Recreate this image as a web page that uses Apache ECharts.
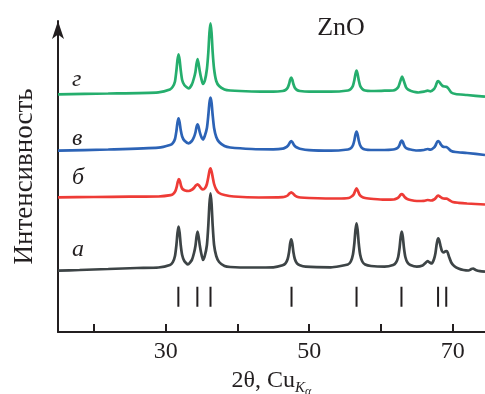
<!DOCTYPE html>
<html>
<head>
<meta charset="utf-8">
<script src="https://cdn.jsdelivr.net/npm/echarts@6/dist/echarts.min.js"></script>
<style>
  html, body { margin: 0; padding: 0; background: #fff; }
  #chart { width: 485px; height: 394px; }
</style>
</head>
<body>
<div id="chart"></div>
<script>
// 2θ (deg) and offset intensity
const curveA = [
  [15, 61.3], [18, 62], [22, 63], [26, 64], [29, 64.5], [30.6, 67], [31.0, 69.8], [31.3, 76], [31.5, 87],
  [31.65, 99], [31.8, 105.3], [31.95, 99], [32.1, 87], [32.3, 77], [32.6, 71], [33.1, 67.5],
  [33.65, 72], [33.95, 79], [34.15, 86], [34.3, 95], [34.45, 100.3], [34.6, 95], [34.75, 87], [34.95, 79], [35.2, 72],
  [35.45, 76], [35.75, 87], [35.95, 107], [36.1, 128], [36.25, 138.7], [36.4, 128], [36.55, 107], [36.75, 87],
  [37.05, 76], [37.45, 70], [38.2, 66], [39, 65], [42, 64.5], [45, 64.7],
  [46.3, 66.7], [46.7, 68.6], [47.0, 73], [47.2, 80], [47.35, 88.6], [47.5, 92.7], [47.65, 88.6], [47.8, 80],
  [48.0, 73], [48.3, 68.6], [48.7, 66.7], [49.5, 65.3], [53, 64.7],
  [55.4, 67.5], [55.8, 70.5], [56.1, 77.5], [56.3, 89], [56.45, 102], [56.6, 108.7], [56.75, 102], [56.9, 89],
  [57.1, 77.5], [57.4, 70.5], [57.8, 67.5], [58.6, 66], [60.5, 65.3],
  [61.7, 67], [62.1, 69.5], [62.4, 75], [62.6, 84.5], [62.75, 95], [62.9, 100.3], [63.05, 95], [63.2, 84.5],
  [63.4, 75], [63.7, 69.5], [64.1, 67], [65, 65.3],
  [65.8, 66.5], [66.2, 69], [66.5, 71], [66.8, 69.5], [67.1, 68.5], [67.4, 73], [67.6, 79], [67.75, 87],
  [67.9, 92.5], [68.0, 93.7], [68.15, 91], [68.3, 86], [68.5, 81], [68.75, 79.5], [69.0, 80.8], [69.15, 81],
  [69.3, 79.5], [69.5, 75], [69.8, 69.5], [70.2, 66], [70.8, 63.5], [71.5, 62], [72.2, 61.5], [72.6, 63],
  [72.85, 63.5], [73.2, 62], [73.8, 60.8], [74.5, 60.3]
];
const curveB = [
  [15, 134.7], [20, 135], [25, 135.3], [29, 135.5], [30.7, 136.8], [31.05, 138], [31.35, 140.8], [31.55, 145.4],
  [31.7, 150.5], [31.85, 153], [32.0, 150.5], [32.15, 146], [32.35, 143], [32.7, 141.5], [33.2, 141],
  [33.7, 142.5], [34.0, 144.5], [34.2, 146.5], [34.45, 147.7], [34.65, 146.5], [34.9, 144], [35.2, 142.5],
  [35.5, 144], [35.75, 148], [35.95, 155], [36.1, 161], [36.25, 163.7], [36.4, 160.5], [36.55, 155],
  [36.75, 148], [37.05, 142.5], [37.45, 139], [38.2, 137], [39.5, 135.5], [43, 134.5],
  [46.3, 134.8], [46.7, 135.5], [47.0, 136.5], [47.25, 138.5], [47.5, 139.7], [47.75, 138.5], [48.0, 136.5],
  [48.3, 135.3], [48.8, 134.5], [50, 134], [54, 133.5],
  [55.5, 134], [55.9, 135.5], [56.2, 137.5], [56.4, 141], [56.6, 143.7], [56.8, 141], [57.0, 137.5],
  [57.3, 135.3], [57.8, 134], [59, 133], [60.5, 132.3],
  [61.8, 132.5], [62.2, 133.5], [62.5, 135], [62.7, 137], [62.9, 138], [63.1, 137], [63.3, 135], [63.6, 133.3],
  [64.1, 132], [65, 131], [66, 131.2], [66.5, 132], [67, 131.5], [67.4, 132.5], [67.7, 134.5], [67.85, 136],
  [68.0, 136.3], [68.2, 135.5], [68.5, 134], [68.9, 133.3], [69.15, 133.3], [69.5, 132], [70, 130],
  [70.8, 129.2], [72, 128.5], [74.5, 127.5]
];
const curveV = [
  [15, 181.3], [22, 182.5], [29, 184.3], [30.6, 187], [31.0, 188.9], [31.3, 193], [31.5, 201], [31.65, 209.5],
  [31.8, 213.7], [31.95, 209.5], [32.1, 202], [32.3, 195.5], [32.6, 191.5], [33.2, 188.7], [33.65, 191],
  [33.95, 195], [34.15, 199.5], [34.3, 205], [34.45, 207.7], [34.6, 205], [34.75, 200], [34.95, 195.5],
  [35.2, 192.5], [35.45, 196], [35.75, 204], [35.95, 217], [36.1, 229], [36.25, 234.3], [36.4, 229],
  [36.55, 217], [36.75, 204], [37.05, 195], [37.45, 190], [38.2, 186], [39, 184.5], [42, 183], [45, 182.7],
  [46.3, 183.3], [46.7, 184.5], [47.0, 186], [47.2, 188], [47.35, 190], [47.5, 191], [47.65, 190], [47.8, 188],
  [48.0, 186], [48.3, 184.5], [48.7, 183.3], [50, 181.8], [53, 181.3],
  [55.4, 182.5], [55.8, 183.7], [56.1, 186.8], [56.3, 191.8], [56.45, 197.5], [56.6, 200.3], [56.75, 197.5],
  [56.9, 191.8], [57.1, 186.8], [57.4, 183.7], [57.8, 182.5], [58.6, 182], [60.5, 182],
  [61.7, 182.5], [62.1, 183.3], [62.4, 184.7], [62.6, 187.2], [62.75, 190], [62.9, 191.3], [63.05, 190],
  [63.2, 187.2], [63.4, 184.7], [63.7, 183.3], [64.1, 182.5], [65, 181.5],
  [66, 182], [66.5, 183], [66.9, 182.3], [67.4, 184.5], [67.6, 186.5], [67.75, 189], [67.9, 190.7], [68.0, 191],
  [68.15, 190], [68.35, 187.5], [68.6, 185.5], [68.9, 185], [69.15, 185], [69.4, 183.5], [69.8, 181],
  [70.4, 180], [72, 179], [74.5, 177]
];
const curveG = [
  [15, 237.7], [22, 238.5], [29, 239.7], [30.6, 242.5], [31.0, 245.4], [31.3, 250.5], [31.5, 261.5],
  [31.65, 272], [31.8, 277.7], [31.95, 272], [32.1, 262], [32.3, 252], [32.6, 247], [33.2, 243.7],
  [33.65, 247.5], [33.95, 254], [34.15, 260], [34.3, 268], [34.45, 273], [34.6, 268], [34.75, 261],
  [34.95, 254], [35.2, 248], [35.45, 251], [35.75, 263], [35.95, 280], [36.1, 299], [36.25, 308.7],
  [36.4, 299], [36.55, 280], [36.75, 263], [37.05, 251], [37.45, 246], [38.2, 242.5], [39, 241.5],
  [42, 240.5], [45, 240.3],
  [46.3, 241], [46.7, 242], [47.0, 244.2], [47.2, 248], [47.35, 252.2], [47.5, 254.3], [47.65, 252.2],
  [47.8, 248], [48.0, 244.2], [48.3, 242], [48.7, 241], [50, 240.3], [53, 240.3],
  [55.4, 241.5], [55.8, 243], [56.1, 246.3], [56.3, 252], [56.45, 258], [56.6, 261.3], [56.75, 258],
  [56.9, 252], [57.1, 246.3], [57.4, 243], [57.8, 241.5], [58.6, 241], [60.5, 241.3],
  [61.7, 241.5], [62.1, 242.6], [62.4, 244.7], [62.6, 248.6], [62.8, 253], [62.95, 255.3], [63.1, 253],
  [63.3, 248.6], [63.5, 244.7], [63.8, 242.3], [64.2, 241], [65.2, 239.5],
  [66, 240.3], [66.5, 241.3], [66.9, 240.6], [67.4, 243], [67.6, 245.5], [67.75, 248.5], [67.9, 250.6],
  [68.0, 251], [68.15, 250], [68.35, 247.8], [68.6, 246], [68.9, 245.5], [69.15, 245.3], [69.4, 243.5],
  [69.8, 239.5], [70.4, 238], [72, 237], [74.5, 235.3]
];
// reference ZnO line positions and the stick extent
const refLines = [31.77, 34.42, 36.25, 47.54, 56.6, 62.86, 67.96, 69.1];
const stickRange = [25.3, 45.3];

const curveNames = ['а', 'б', 'в', 'г'];
const curveColors = ['#3d4446', '#ee3b36', '#2c63b6', '#25ae6d'];
const tickValues = [20, 30, 40, 50, 60, 70];
const labelValues = [30, 50, 70];

const serif = '"Liberation Serif", "DejaVu Serif", serif';
const ink = '#231f20';

const sticks = [];
refLines.forEach(function (x) {
  sticks.push([x, stickRange[0]], [x, stickRange[1]], [x, null]);
});

const chart = echarts.init(document.getElementById('chart'), null, { renderer: 'canvas' });

const curveSeries = [curveA, curveB, curveV, curveG].map(function (d, i) {
  return {
    type: 'line',
    name: curveNames[i],
    data: d,
    showSymbol: false,
    symbol: 'none',
    smooth: 0.2,
    lineStyle: { color: curveColors[i], width: 2.7 },
    z: 3
  };
});

chart.setOption({
  animation: false,
  backgroundColor: '#ffffff',
  title: {
    text: 'ZnO',
    left: 336,
    top: 10,
    textAlign: 'center',
    textStyle: { fontFamily: serif, fontSize: 26, fontWeight: 'normal', color: ink }
  },
  grid: { left: 58, right: 0, top: 21, bottom: 62, containLabel: false, outerBoundsMode: 'none' },
  xAxis: {
    type: 'value',
    min: 15,
    max: 74.5,
    name: '{m|2θ, Cu}{k|K}{a|α}',
    nameLocation: 'middle',
    nameGap: 32,
    nameTextStyle: {
      rich: {
        m: { fontFamily: serif, fontSize: 24, color: ink, verticalAlign: 'top' },
        k: { fontFamily: serif, fontSize: 15, fontStyle: 'italic', color: ink, verticalAlign: 'top', padding: [12, 0, 0, 0] },
        a: { fontFamily: serif, fontSize: 12, fontStyle: 'italic', color: ink, verticalAlign: 'top', padding: [17, 0, 0, 0] }
      }
    },
    axisLine: { lineStyle: { color: ink, width: 2 } },
    axisTick: { inside: true, length: 8, customValues: tickValues, lineStyle: { color: ink, width: 2 } },
    axisLabel: { customValues: labelValues, margin: 8, fontFamily: serif, fontSize: 24, color: ink },
    splitLine: { show: false }
  },
  yAxis: {
    type: 'value',
    min: 0,
    max: 311,
    name: 'Интенсивность',
    nameLocation: 'middle',
    nameGap: 20,
    nameTextStyle: { fontFamily: serif, fontSize: 27, color: ink },
    axisLine: {
      show: true,
      symbol: ['none', 'arrow'],
      symbolSize: [9, 18],
      lineStyle: { color: ink, width: 2 }
    },
    axisTick: { show: false },
    axisLabel: { show: false },
    splitLine: { show: false }
  },
  graphic: [
    { type: 'text', left: 72, top: 68, style: { text: 'г', font: 'italic 24px ' + serif, fill: ink } },
    { type: 'text', left: 72, top: 127, style: { text: 'в', font: 'italic 24px ' + serif, fill: ink } },
    { type: 'text', left: 72, top: 166, style: { text: 'б', font: 'italic 24px ' + serif, fill: ink } },
    { type: 'text', left: 72, top: 238, style: { text: 'а', font: 'italic 24px ' + serif, fill: ink } }
  ],
  series: curveSeries.concat([{
    type: 'line',
    name: 'ZnO',
    data: sticks,
    showSymbol: false,
    symbol: 'none',
    connectNulls: false,
    lineStyle: { color: ink, width: 2 },
    z: 2
  }])
});
</script>
</body>
</html>
